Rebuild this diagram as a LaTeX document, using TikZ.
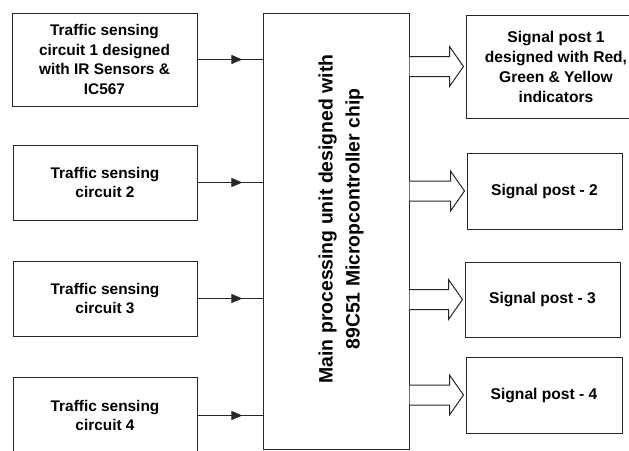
\documentclass[tikz,border=0pt]{standalone}
\usepackage{fontspec}
\setmainfont{Liberation Sans}
\usepackage{tikz}
\usetikzlibrary{arrows.meta,calc,decorations.markings}

\tikzset{
  boxline/.style={draw=black!85, line width=1pt},
  sensebox/.style={boxline, rectangle, align=center, inner sep=0pt,
    font=\fontsize{15.4}{19.5}\selectfont\bfseries},
  postbox/.style={boxline, rectangle, align=center, inner sep=0pt,
    font=\fontsize{15.6}{20}\selectfont\bfseries},
  feed/.style={boxline, postaction={decorate}, decoration={markings,
    mark=at position 0.69 with {\arrow{Triangle[length=11pt,width=9pt]}}}},
  blockarr/.style={boxline, fill=white, line join=miter}
}

% hollow block arrow from the main unit to a signal post
\newcommand{\blockarrow}[1]{%
  \draw[blockarr] let \p1=(main.east |- #1.west), \p2=(#1.west) in
    (\x1,\y1+10pt) -- (\x2-16pt,\y1+10pt) -- (\x2-16pt,\y1+20pt) --
    (\x2-2pt,\y1) -- (\x2-16pt,\y1-20pt) -- (\x2-16pt,\y1-10pt) --
    (\x1,\y1-10pt);
}

\begin{document}
\begin{tikzpicture}[x=1pt,y=1pt]
\useasboundingbox (0,0) rectangle (629,-450);

% Sensing circuits
\node[sensebox, minimum width=185, minimum height=93] (s1) at (104.5,-59.5)
  {Traffic sensing\\circuit 1 designed\\with IR Sensors \&\\IC567};
\node[sensebox, minimum width=184, minimum height=75] (s2) at (105,-182.5)
  {Traffic sensing\\circuit 2};
\node[sensebox, minimum width=184, minimum height=75] (s3) at (105,-298.5)
  {Traffic sensing\\circuit 3};
\node[sensebox, minimum width=184, minimum height=77] (s4) at (105,-415.5)
  {Traffic sensing\\circuit 4};

% Main processing unit
\node[boxline, rectangle, minimum width=146, minimum height=436] (main) at (336,-231) {};
\node[rotate=90, align=center, font=\fontsize{19.4}{27}\selectfont\bfseries]
  (mainlbl) at (341,-219)
  {Main processing unit designed with\\89C51 Micropcontroller chip};

% Signal posts
\node[postbox, minimum width=180, minimum height=103] (p1) at (556,-66.5)
  {Signal post 1\\designed with Red,\\Green \& Yellow\\indicators};
\node[postbox, minimum width=155, minimum height=76] (p2) at (544.5,-191)
  {Signal post - 2};
\node[postbox, minimum width=155, minimum height=75] (p3) at (542.5,-299.5)
  {Signal post - 3};
\node[postbox, minimum width=156, minimum height=76] (p4) at (544,-395)
  {Signal post - 4};

% Inputs
\foreach \s in {s1,s2,s3,s4} {
  \draw[feed] (\s.east) -- (\s.east -| main.west);
}

% Outputs
\foreach \post in {p1,p2,p3,p4} {
  \blockarrow{\post}
}

\end{tikzpicture}
\end{document}
